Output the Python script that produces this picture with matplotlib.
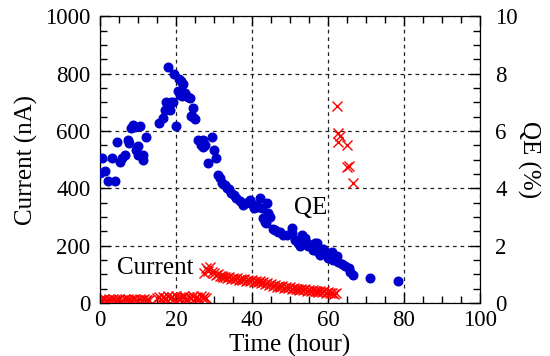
import matplotlib.pyplot as plt
from matplotlib.ticker import MultipleLocator

plt.rcParams['font.family'] = ['Liberation Serif', 'DejaVu Serif']

# QE (%) vs time (hour)
qe_time = [0.0, 0.4, 1.3, 2.2, 3.1, 3.9, 4.6, 5.3, 5.7, 6.6, 7.3, 7.6, 8.2, 8.6, 9.2,
           9.6, 9.9, 10.0, 10.5, 11.2, 11.4, 12.1, 15.5, 16.5, 17.1, 17.5, 18.0, 18.4,
           18.6, 19.3, 19.6, 20.0, 20.4, 20.8, 21.0, 21.3, 21.6, 21.9, 22.5, 23.2, 23.7,
           23.9, 24.6, 24.6, 25.0, 25.9, 26.6, 27.1, 27.2, 27.6, 28.5, 29.6, 30.0, 30.5,
           31.1, 31.6, 32.0, 32.9, 33.3, 34.0, 34.6, 35.3, 35.9, 36.8, 37.7, 38.5, 39.4,
           40.0, 40.4, 41.0, 41.7, 42.1, 42.6, 43.0, 43.4, 43.7, 43.9, 44.3, 44.7, 45.6,
           46.1, 46.9, 47.4, 48.2, 49.1, 50.4, 50.4, 51.3, 52.0, 52.6, 53.1, 53.9, 54.4,
           54.8, 55.7, 56.1, 56.6, 57.0, 57.5, 57.9, 58.8, 59.7, 60.1, 61.0, 61.4, 62.3,
           62.7, 63.6, 64.5, 65.4, 65.8, 66.7, 71.0, 78.4]
qe_vals = [4.52, 5.07, 4.60, 4.26, 5.07, 4.26, 5.60, 4.93, 5.05, 5.16, 5.69, 5.57, 6.09,
           6.21, 6.15, 5.34, 5.18, 5.49, 6.17, 4.99, 5.18, 5.80, 6.27, 6.44, 6.73, 7.00,
           8.24, 6.73, 7.00, 7.00, 7.98, 6.19, 7.39, 7.81, 7.27, 7.74, 7.23, 7.63, 7.31,
           7.20, 7.14, 6.53, 6.79, 6.50, 6.42, 5.68, 5.51, 5.45, 5.69, 5.51, 4.87, 5.80,
           5.34, 5.07, 4.46, 4.35, 4.20, 4.12, 4.00, 3.98, 3.83, 3.75, 3.65, 3.55, 3.42,
           3.48, 3.60, 3.45, 3.30, 3.40, 3.36, 3.65, 3.30, 2.95, 2.84, 2.80, 3.48, 3.13,
           3.01, 2.57, 2.54, 2.49, 2.48, 2.37, 2.37, 2.60, 2.43, 2.20, 2.10, 1.97, 2.37,
           2.25, 2.08, 1.97, 2.02, 1.85, 2.08, 2.08, 1.79, 1.67, 1.88, 1.73, 1.56, 1.79,
           1.50, 1.64, 1.44, 1.36, 1.29, 1.21, 1.09, 0.98, 0.88, 0.77]

# photocurrent (nA) vs time (hour)
cur_time = [0, 0.5, 1, 1.5, 2, 2.5, 3, 3.5, 4, 4.5, 5, 5.5, 6, 6.5, 7, 7.5, 8, 8.5, 9,
            9.5, 10, 10.5, 11, 11.5, 12, 12.5, 13,
            15, 15.5, 16, 16.5, 17, 17.5, 18, 18.5, 19, 19.5, 20, 20.5, 21, 21.5, 22,
            22.5, 23, 23.5, 24, 24.5, 25, 25.5, 26, 26.5, 27, 27.5, 28,
            27.5, 28, 28.5, 29, 29.5, 30, 30.5, 31, 31.5, 32, 32.5, 33, 33.5, 34, 34.5,
            35, 35.5, 36, 36.5, 37, 37.5, 38, 38.5, 39, 39.5, 40, 40.5, 41, 41.5, 42,
            42.5, 43, 43.5, 44, 44.5, 45, 45.5, 46, 46.5, 47, 47.5, 48, 48.5, 49, 49.5,
            50, 50.5, 51, 51.5, 52, 52.5, 53, 53.5, 54, 54.5, 55, 55.5, 56, 56.5, 57,
            57.5, 58, 58.5, 59, 59.5, 60, 60.5, 61, 61.5, 62,
            62.5, 62.6, 62.7, 63.1, 64.9, 64.9, 65.6, 66.5]
cur_vals = [12, 9, 14, 11, 8, 13, 10, 15, 9, 12, 14, 8, 11, 13, 10, 15, 9, 12, 14,
            10, 8, 13, 11, 15, 9, 12, 10,
            16, 20, 13, 22, 18, 15, 24, 17, 20, 14, 23, 19, 16, 21, 25, 18, 15, 22,
            19, 24, 17, 20, 14, 23, 18, 21, 16,
            105, 122, 112, 125, 108, 104, 96, 100, 93, 95, 90, 92, 87, 90, 85,
            88, 84, 86, 81, 84, 79, 82, 78, 80, 76, 79, 74, 77, 72, 75,
            70, 73, 66, 69, 62, 65, 59, 62, 57, 60, 55, 58, 53, 56, 51,
            54, 49, 52, 47, 50, 46, 49, 44, 47, 43, 46, 41, 44, 40, 43,
            38, 41, 37, 40, 35, 38, 33, 36, 31, 34,
            688, 563, 592, 582, 551, 473, 478, 420]

fig = plt.figure(figsize=(5.5, 3.56), dpi=100)
ax = fig.add_axes([0.1818, 0.149, 0.6909, 0.805])
ax2 = ax.twinx()

ax.plot(cur_time, cur_vals, 'x', color='#ff0000', ms=7, mew=1.0, zorder=3)
ax2.plot(qe_time, qe_vals, 'o', color='#0000cc', ms=6.2, mec='#0000cc', zorder=4)

ax.set_xlim(0, 100)
ax.set_ylim(0, 1000)
ax2.set_ylim(0, 10)

ax.xaxis.set_major_locator(MultipleLocator(20))
ax.xaxis.set_minor_locator(MultipleLocator(5))
ax.yaxis.set_major_locator(MultipleLocator(200))
ax.yaxis.set_minor_locator(MultipleLocator(50))
ax2.yaxis.set_major_locator(MultipleLocator(2))
ax2.yaxis.set_minor_locator(MultipleLocator(0.5))

ax.tick_params(which='both', direction='in', top=True, right=False, labelsize=16.5)
ax.tick_params(axis='y', pad=7)
ax.tick_params(axis='x', pad=5)
ax.tick_params(which='major', length=7, width=1)
ax.tick_params(which='minor', length=5, width=1)
ax2.tick_params(which='both', direction='in', labelsize=16.5, pad=11)
ax2.tick_params(which='major', length=7, width=1)
ax2.tick_params(which='minor', length=5, width=1)

ax.grid(True, which='major', color='#222222', linestyle=(0, (3, 3)), linewidth=0.9)
ax.set_axisbelow(True)

ax.set_xlabel('Time (hour)', fontsize=18, labelpad=2)
ax.set_ylabel('Current (nA)', fontsize=18, labelpad=5)
ax2.set_ylabel('QE (%)', fontsize=18, rotation=270, labelpad=16)

ax.text(14.5, 122, 'Current', fontsize=18, ha='center', va='center')
ax.text(55.5, 331, 'QE', fontsize=18, ha='center', va='center')

fig.savefig('out.png', dpi=100)
